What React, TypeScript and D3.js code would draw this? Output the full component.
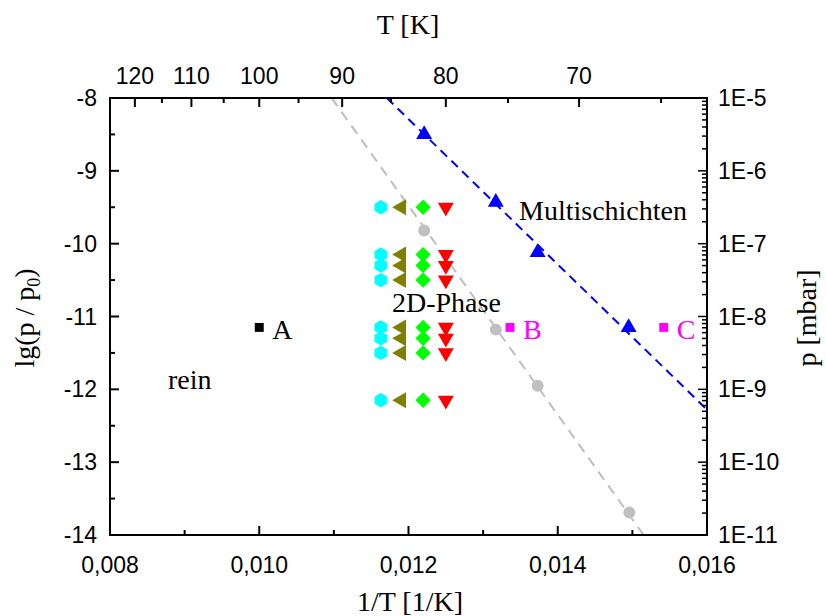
import React from 'react';
import * as d3 from 'd3';

// ---- axis ticks ----
const xTicksMajor = [0.008, 0.01, 0.012, 0.014, 0.016];
const xTicksMinor = [0.009, 0.011, 0.013, 0.015];
const yTicksMajor = [-8, -9, -10, -11, -12, -13, -14];
const yTicksMinor = [-8.5, -9.5, -10.5, -11.5, -12.5, -13.5];
const tTicksMajor = [120, 110, 100, 90, 80, 70];
const tTicksMinor = [115, 105, 95, 85, 75, 65];
const pDecades = [1e-11, 1e-10, 1e-9, 1e-8, 1e-7, 1e-6, 1e-5];
const pDecadeLabels = ['1E-11', '1E-10', '1E-9', '1E-8', '1E-7', '1E-6', '1E-5'];

// ---- data ----
// 2D-phase measurement grid: temperatures (K) of the four symbol columns
const phaseTemps = [86, 84, 82, 80];
const phaseSymbols = ['hexagon', 'left', 'diamond', 'down'];
const phaseColors = ['#00FFFF', '#808000', '#00FF00', '#FF0000'];
const phaseLg = [-9.5, -10.15, -10.3, -10.5, -11.15, -11.3, -11.5, -12.15];

// Multischichten (blue triangles)
const multiX = [0.01221, 0.01317, 0.01373, 0.01495];
const multiY = [-8.5, -9.43, -10.12, -11.15];
const multiFitX = [0.01171, 0.016];
const multiFitY = [-8, -12.28];

// 2D phase boundary (grey circles)
const greyX = [0.01221, 0.01317, 0.01373, 0.01496];
const greyY = [-9.82, -11.18, -11.95, -13.69];
const greyFitX = [0.01097, 0.01515];
const greyFitY = [-8, -14];

// labelled squares
const squareLabels = ['A', 'B', 'C'];
const squareX = [0.01, 0.01336, 0.01542];
const squareY = [-11.15, -11.15, -11.15];
const squareColors = ['#000000', '#FF00FF', '#FF00FF'];

const W = 826;
const H = 616;
const L = 110, R = 707, T = 98, B = 535;

const x = d3.scaleLinear().domain([0.008, 0.016]).range([L, R]);
const y = d3.scaleLinear().domain([-14, -8]).range([B, T]);
const yp = d3.scaleLog().domain([1e-11, 1e-5]).range([B, T]);

const sans = 'Arial, "Liberation Sans", sans-serif';
const serif = '"Times New Roman", "Liberation Serif", serif';
const SERIF_SIZE = 28;

function hexPath(r: number) {
  const pts = d3.range(6).map((i) => {
    const a = (Math.PI / 3) * i + Math.PI / 6;
    return [r * Math.cos(a), r * Math.sin(a)];
  });
  return 'M' + pts.map((p) => p.join(',')).join('L') + 'Z';
}

const triPath = d3.symbol().type(d3.symbolTriangle).size(110)() as string;
const diaPath = d3.symbol().type(d3.symbolSquare).size(118)() as string;
const circPath = d3.symbol().type(d3.symbolCircle).size(112)() as string;
const sqPath = d3.symbol().type(d3.symbolSquare).size(80)() as string;

function Marker({ kind, cx, cy, color }: { kind: string; cx: number; cy: number; color: string }) {
  if (kind === 'hexagon') return <path d={hexPath(7.2)} transform={`translate(${cx},${cy})`} fill={color} />;
  if (kind === 'left') return <path d={triPath} transform={`translate(${cx},${cy}) rotate(-90)`} fill={color} />;
  if (kind === 'down') return <path d={triPath} transform={`translate(${cx},${cy}) rotate(180)`} fill={color} />;
  if (kind === 'diamond') return <path d={diaPath} transform={`translate(${cx},${cy}) rotate(45)`} fill={color} />;
  return null;
}

export default function App() {
  const multiFit = d3.line<number>()
    .x((v) => x(v))
    .y((_, i) => y(multiFitY[i]))(multiFitX) as string;
  const greyFit = d3.line<number>()
    .x((v) => x(v))
    .y((_, i) => y(greyFitY[i]))(greyFitX) as string;

  const pMinor: number[] = [];
  pDecades.slice(0, -1).forEach((d) => {
    for (let k = 2; k <= 9; k++) pMinor.push(d * k);
  });

  return (
    <svg width={W} height={H} style={{ position: 'absolute', left: 0, top: 0, background: '#fff' }}>
      <rect x={0} y={0} width={W} height={H} fill="#fff" />
      <defs>
        <clipPath id="plot">
          <rect x={L} y={T} width={R - L} height={B - T} />
        </clipPath>
      </defs>

      {/* fit lines */}
      <g clipPath="url(#plot)">
        <path d={greyFit} stroke="#BEBEBE" strokeWidth={2} strokeDasharray="10,7" fill="none" />
        <path d={multiFit} stroke="#0000FF" strokeWidth={2} strokeDasharray="9,6" fill="none" />
      </g>

      {/* phase grid */}
      {phaseTemps.map((t, si) =>
        phaseLg.map((v, j) => (
          <Marker key={`${si}-${j}`} kind={phaseSymbols[si]} cx={x(1 / t)} cy={y(v)} color={phaseColors[si]} />
        ))
      )}

      {/* grey circles */}
      {greyX.map((v, i) => (
        <path key={`g${i}`} d={circPath} transform={`translate(${x(v)},${y(greyY[i])})`} fill="#C0C0C0" />
      ))}

      {/* blue triangles */}
      {multiX.map((v, i) => (
        <path key={`b${i}`} d={triPath} transform={`translate(${x(v)},${y(multiY[i])})`} fill="#0000FF" />
      ))}

      {/* squares with labels */}
      {squareX.map((v, i) => (
        <g key={`s${i}`}>
          <path d={sqPath} transform={`translate(${x(v)},${y(squareY[i])})`} fill={squareColors[i]} />
          <text x={x(v) + 13} y={y(squareY[i]) + 12} fontFamily={serif} fontSize={SERIF_SIZE} fill={squareColors[i]}>
            {squareLabels[i]}
          </text>
        </g>
      ))}

      {/* region labels */}
      <text x={168} y={389} fontFamily={serif} fontSize={SERIF_SIZE}>rein</text>
      <text x={392} y={312} fontFamily={serif} fontSize={SERIF_SIZE}>2D-Phase</text>
      <text x={519} y={220} fontFamily={serif} fontSize={SERIF_SIZE}>Multischichten</text>

      {/* axes frame */}
      <g stroke="#000" strokeWidth={2} fill="none">
        <line x1={L} y1={T} x2={L} y2={B} />
        <line x1={R} y1={T} x2={R} y2={B} />
        <line x1={L - 1} y1={T} x2={R + 1} y2={T} />
        <line x1={L - 1} y1={B} x2={R + 1} y2={B} />
      </g>

      {/* bottom axis */}
      <g stroke="#000" strokeWidth={2}>
        {xTicksMajor.map((v) => (
          <line key={`xm${v}`} x1={x(v)} x2={x(v)} y1={B} y2={B - 9} />
        ))}
        {xTicksMinor.map((v) => (
          <line key={`xn${v}`} x1={x(v)} x2={x(v)} y1={B} y2={B - 5} />
        ))}
      </g>
      {xTicksMajor.map((v) => (
        <text key={`xl${v}`} x={x(v)} y={573} textAnchor="middle" fontFamily={sans} fontSize={23}>
          {v.toFixed(3).replace('.', ',')}
        </text>
      ))}

      {/* top axis (temperature) */}
      <g stroke="#000" strokeWidth={2}>
        {tTicksMajor.map((t) => (
          <line key={`tm${t}`} x1={x(1 / t)} x2={x(1 / t)} y1={T} y2={T + 9} />
        ))}
        {tTicksMinor.map((t) => (
          <line key={`tn${t}`} x1={x(1 / t)} x2={x(1 / t)} y1={T} y2={T + 5} />
        ))}
      </g>
      {tTicksMajor.map((t) => (
        <text key={`tl${t}`} x={x(1 / t)} y={84} textAnchor="middle" fontFamily={sans} fontSize={23}>
          {t}
        </text>
      ))}

      {/* left axis */}
      <g stroke="#000" strokeWidth={2}>
        {yTicksMajor.map((v) => (
          <line key={`ym${v}`} x1={L} x2={L + 9} y1={y(v)} y2={y(v)} />
        ))}
        {yTicksMinor.map((v) => (
          <line key={`yn${v}`} x1={L} x2={L + 5} y1={y(v)} y2={y(v)} />
        ))}
      </g>
      {yTicksMajor.map((v) => (
        <text key={`yl${v}`} x={97} y={y(v) + 8} textAnchor="end" fontFamily={sans} fontSize={23}>
          {v}
        </text>
      ))}

      {/* right axis (log pressure) */}
      <g stroke="#000" strokeWidth={1.5}>
        {pDecades.map((v) => (
          <line key={`pm${v}`} x1={R} x2={R - 9} y1={yp(v)} y2={yp(v)} />
        ))}
        {pMinor.map((v, i) => (
          <line key={`pn${i}`} x1={R} x2={R - 5} y1={yp(v)} y2={yp(v)} />
        ))}
      </g>
      {pDecades.map((v, i) => (
        <text key={`pl${i}`} x={718} y={yp(v) + 8} fontFamily={sans} fontSize={23}>
          {pDecadeLabels[i]}
        </text>
      ))}

      {/* axis titles */}
      <text x={408} y={34} textAnchor="middle" fontFamily={serif} fontSize={SERIF_SIZE}>T [K]</text>
      <text x={410} y={611} textAnchor="middle" fontFamily={serif} fontSize={SERIF_SIZE}>1/T [1/K]</text>
      <text transform="translate(34,318) rotate(-90)" textAnchor="middle" fontFamily={serif} fontSize={SERIF_SIZE}>
        lg(p / p<tspan fontSize={18} dy={6}>0</tspan><tspan dy={-6}>)</tspan>
      </text>
      <text transform="translate(816,318) rotate(-90)" textAnchor="middle" fontFamily={serif} fontSize={SERIF_SIZE}>
        p [mbar]
      </text>
    </svg>
  );
}
